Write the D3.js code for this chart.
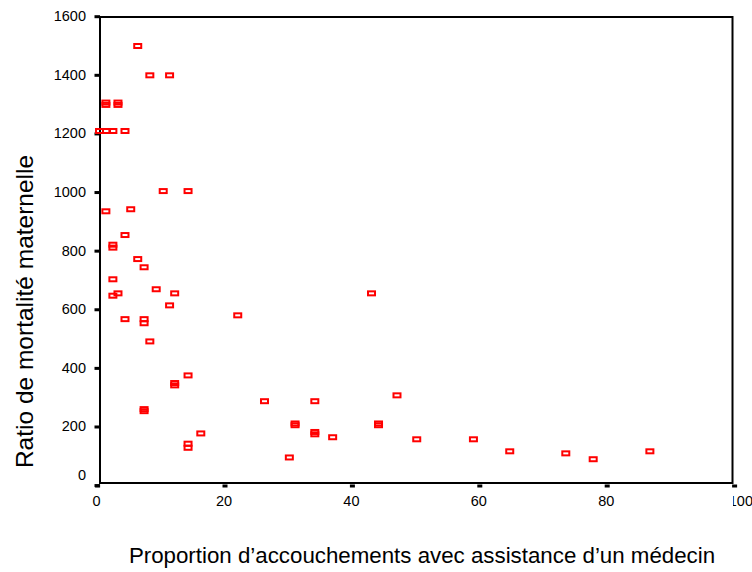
<!DOCTYPE html>
<html>
<head>
<meta charset="utf-8">
<script src="https://cdnjs.cloudflare.com/ajax/libs/d3/7.8.5/d3.min.js"></script>
<style>
  body { margin: 0; background: #fff; }
  text { font-family: Arial, "Liberation Sans", sans-serif; fill: #000; }
</style>
</head>
<body>
<div id="chart"></div>
<script>
// Data
var proportion = [6.3, 8.2, 11.3, 1.3, 1.3, 3.2, 3.2, 0.3, 1.4, 2.4, 4.3,
  10.3, 14.2, 1.3, 5.2, 4.3, 2.4, 2.4, 6.3, 7.3, 2.4, 2.4, 3.2, 9.2, 12.1, 11.3,
  4.3, 7.3, 7.3, 22.0, 8.2, 14.2, 12.1, 12.1, 7.3, 7.3, 26.2, 34.1, 43.0, 47.0,
  31.0, 31.0, 44.1, 44.1, 34.1, 34.1, 36.9, 50.1, 59.0, 16.2, 14.2, 14.2,
  30.1, 64.7, 73.5, 77.8, 86.7];
var ratio = [1500, 1400, 1400, 1307, 1299, 1307, 1299, 1210, 1210, 1210, 1210,
  1005, 1005, 936, 943, 855, 822, 812, 773, 745, 704, 648, 656, 670, 656, 615,
  568, 568, 554, 581, 492, 376, 350, 342, 261, 254, 288, 288, 656, 308,
  212, 206, 212, 206, 183, 175, 165, 158, 158, 178, 143, 129,
  96, 117, 110, 90, 117];
var xTicks = [0, 20, 40, 60, 80];
var yTicks = [0, 200, 400, 600, 800, 1000, 1200, 1400, 1600];

var width = 752, height = 572;

var svg = d3.select("#chart")
    .append("svg")
        .attr("width", width)
        .attr("height", height);

// X Scale
var x = d3.scaleLinear()
    .domain([0, 100])
    .range([97.6, 734.6]);

// Y Scale
var y = d3.scaleLinear()
    .domain([0, 1600])
    .range([485.6, 16.7]);

// Frame
var frame = { left: 100, right: 732.5, top: 17, bottom: 483 };
svg.append("rect")
    .attr("x", frame.left)
    .attr("y", frame.top)
    .attr("width", frame.right - frame.left)
    .attr("height", frame.bottom - frame.top)
    .attr("fill", "none")
    .attr("stroke", "#000")
    .attr("stroke-width", 2);

// Y ticks + labels
svg.selectAll(".ytick")
    .data(yTicks)
    .enter()
    .append("rect")
        .attr("class", "ytick")
        .attr("x", 94.5)
        .attr("y", function(d){ return y(d) - 1.5; })
        .attr("width", 5.5)
        .attr("height", 3)
        .attr("fill", "#000");

svg.selectAll(".ylab")
    .data(yTicks)
    .enter()
    .append("text")
        .attr("class", "ylab")
        .attr("x", 86)
        .attr("y", function(d){ return d === 0 ? 480 : y(d) + 4.5; })
        .attr("text-anchor", "end")
        .attr("font-size", "14.5px")
        .text(function(d){ return d; });

// X ticks + labels
svg.selectAll(".xtick")
    .data(xTicks.concat([100]))
    .enter()
    .append("rect")
        .attr("class", "xtick")
        .attr("x", function(d){ return x(d) - 2.5; })
        .attr("y", 484.5)
        .attr("width", 5)
        .attr("height", 3)
        .attr("fill", "#000");

svg.selectAll(".xlab")
    .data(xTicks)
    .enter()
    .append("text")
        .attr("class", "xlab")
        .attr("x", function(d){ return x(d) - 1; })
        .attr("y", 506)
        .attr("text-anchor", "middle")
        .attr("font-size", "14.5px")
        .text(function(d){ return d; });

// last label is cut off in the original
svg.append("clipPath")
    .attr("id", "cut")
  .append("rect")
    .attr("x", 733)
    .attr("y", 480)
    .attr("width", 30)
    .attr("height", 40);

svg.append("text")
    .attr("x", 753)
    .attr("y", 506)
    .attr("text-anchor", "end")
    .attr("font-size", "14.5px")
    .attr("clip-path", "url(#cut)")
    .text(100);

// Points
svg.selectAll(".pt")
    .data(d3.range(proportion.length))
    .enter()
    .append("rect")
        .attr("class", "pt")
        .attr("x", function(i){ return x(proportion[i]) - 3.5; })
        .attr("y", function(i){ return y(ratio[i]) - 2; })
        .attr("width", 7)
        .attr("height", 4)
        .attr("fill", "none")
        .attr("stroke", "#ff0000")
        .attr("stroke-width", 2);

// Y Label
svg.append("text")
    .attr("transform", "translate(33,311.5) rotate(-90)")
    .attr("text-anchor", "middle")
    .attr("font-size", "24.5px")
    .text("Ratio de mortalité maternelle");

// X Label
svg.append("text")
    .attr("x", 422)
    .attr("y", 563)
    .attr("text-anchor", "middle")
    .attr("font-size", "22.3px")
    .text("Proportion d’accouchements avec assistance d’un médecin");
</script>
</body>
</html>
